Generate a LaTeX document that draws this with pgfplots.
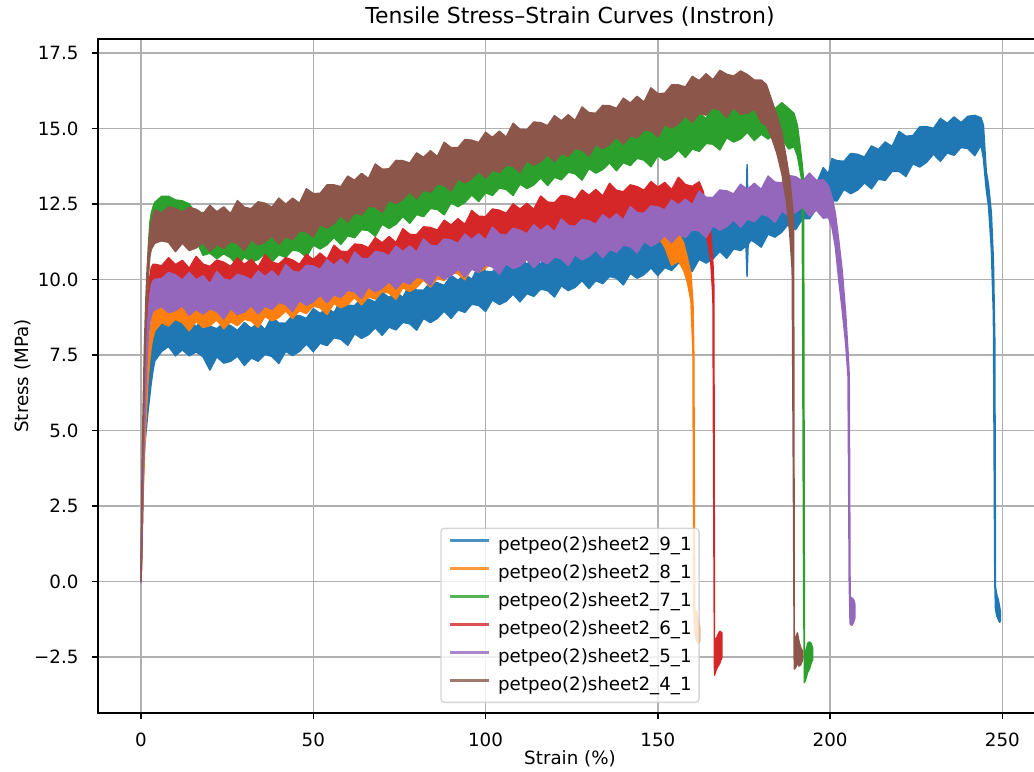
\documentclass[border=0pt]{standalone}
\usepackage{fontspec}
\setmainfont{DejaVu Sans}
\usepackage{pgfplots}
\usepackage{pgfplotstable}
\pgfplotsset{compat=1.18}
\usepgfplotslibrary{fillbetween}

\definecolor{c0}{HTML}{1F77B4}
\definecolor{c1}{HTML}{FF7F0E}
\definecolor{c2}{HTML}{2CA02C}
\definecolor{c3}{HTML}{D62728}
\definecolor{c4}{HTML}{9467BD}
\definecolor{c5}{HTML}{8C564B}
\definecolor{gridgray}{HTML}{B0B0B0}
\definecolor{legendgray}{HTML}{CCCCCC}

% Each specimen: strain x (%), lower and upper edge of the noisy stress trace (MPa)
% sheet2_9_1
\pgfplotstableread{
x lo hi
0 0.0 0.1
0.3 1.5 1.9
0.6 3.2 3.7
1.0 4.4 5.0
1.5 5.0 5.8
2.0 5.6 6.5
2.5 6.1 7.1
3.0 6.6 7.6
3.5 7.0 8.1
4.0 7.3 8.4
6 7.62 8.80
8 7.78 8.63
10 7.47 8.89
12 7.67 8.65
14 7.47 8.74
16 7.60 8.42
18 7.44 8.76
20 7.00 8.45
22 7.44 8.37
24 7.23 8.56
26 7.29 8.47
28 7.46 8.31
30 7.15 8.57
32 7.40 8.38
34 7.29 8.56
36 7.52 8.34
38 7.45 8.77
40 7.22 8.55
42 7.62 8.55
44 7.48 8.81
46 7.62 8.80
48 7.86 8.71
50 7.61 9.03
52 7.89 8.87
54 7.81 9.08
56 8.07 8.89
58 8.02 9.34
60 7.82 9.15
62 8.20 9.13
64 8.05 9.38
66 8.17 9.35
68 8.40 9.25
70 8.15 9.57
72 8.42 9.40
74 8.33 9.60
76 8.58 9.40
78 8.53 9.85
80 8.32 9.65
82 8.71 9.64
84 8.57 9.90
86 8.71 9.89
88 8.95 9.80
90 8.71 10.13
92 8.99 9.97
94 8.91 10.18
96 9.18 10.00
98 9.14 10.46
100 8.94 10.27
102 9.32 10.25
104 9.17 10.50
106 9.28 10.46
108 9.51 10.36
110 9.26 10.68
112 9.53 10.51
114 9.44 10.71
116 9.68 10.50
118 9.63 10.95
120 9.42 10.75
122 9.79 10.72
124 9.63 10.96
126 9.74 10.92
128 9.96 10.81
130 9.70 11.12
132 9.96 10.94
134 9.86 11.13
136 10.10 10.92
138 10.04 11.36
140 9.82 11.15
142 10.20 11.13
144 10.04 11.37
146 10.16 11.34
148 10.38 11.23
150 10.13 11.55
152 10.39 11.37
154 10.30 11.57
156 10.54 11.36
158 10.49 11.81
160 10.27 11.60
162 10.67 11.60
164 10.54 11.87
166 10.68 11.86
168 10.93 11.78
170 10.70 12.12
172 11.01 11.99
174 10.96 12.23
175.6 11.10 12.20
175.9 10.10 13.80
176.2 11.15 12.25
177 11.30 12.12
178 11.24 12.56
180 11.07 12.40
182 11.50 12.43
184 11.40 12.73
186 11.57 12.75
188 11.85 12.70
190 11.65 13.07
192 12.01 12.99
194 12.01 13.28
196 12.34 13.16
198 12.38 13.70
199.5 12.45 13.50
200.5 12.60 14.00
202 12.60 13.93
204 12.98 13.91
206 12.84 14.17
208 12.96 14.14
210 13.20 14.05
212 13.00 14.42
214 13.32 14.30
216 13.28 14.55
218 13.58 14.40
220 13.58 14.90
222 13.41 14.74
224 13.83 14.76
226 13.72 15.05
228 13.88 15.06
230 14.15 15.00
232 13.91 15.33
234 14.19 15.17
236 14.11 15.38
238 14.37 15.19
240 14.33 15.40
242 14.10 15.43
243.8 14.45 15.35
244.5 14.00 15.10
245.3 13.00 13.60
246.0 12.40 13.10
246.8 11.00 12.20
247.4 8.80 10.60
247.8 0.00 8.00
248.0 -0.90 -0.20
248.4 -1.15 -0.45
248.8 -1.25 -0.60
249.2 -1.35 -0.85
249.4 -1.30 -1.00
}\dataA

% sheet2_8_1
\pgfplotstableread{
x lo hi
0 0.0 0.1
0.3 1.2 1.6
0.6 2.8 3.3
1.0 4.2 4.8
1.5 5.5 6.3
2.0 6.6 7.4
2.5 7.3 8.1
3.0 7.8 8.6
3.5 8.1 9.0
4.0 8.3 9.2
6 8.57 9.55
8 8.46 9.73
10 8.68 9.50
12 8.57 9.89
14 8.30 9.63
16 8.62 9.55
18 8.41 9.74
20 8.47 9.65
22 8.66 9.51
24 8.37 9.79
26 8.60 9.58
28 8.47 9.74
30 8.68 9.50
32 8.62 9.94
34 8.41 9.74
36 8.78 9.71
38 8.63 9.96
40 8.74 9.92
42 8.96 9.81
44 8.71 10.13
46 8.97 9.95
48 8.87 10.14
50 9.12 9.94
52 9.06 10.38
54 8.84 10.17
56 9.21 10.14
58 9.06 10.39
60 9.17 10.35
62 9.40 10.25
64 9.16 10.58
66 9.43 10.41
68 9.35 10.62
70 9.60 10.42
72 9.55 10.87
74 9.34 10.67
76 9.73 10.66
78 9.60 10.93
80 9.74 10.92
82 9.98 10.83
84 9.75 11.17
86 10.04 11.02
88 9.96 11.23
90 10.23 11.05
92 10.19 11.51
94 9.99 11.32
96 10.38 11.31
98 10.24 11.57
100 10.37 11.55
102 10.60 11.45
104 10.34 11.76
106 10.61 11.59
108 10.52 11.79
110 10.76 11.58
112 10.71 12.03
114 10.50 11.83
116 10.87 11.80
118 10.70 12.03
120 10.80 11.98
122 11.02 11.87
124 10.75 12.17
126 11.00 11.98
128 10.90 12.17
130 11.13 11.95
132 11.06 12.38
134 10.84 12.17
136 11.20 12.13
138 11.03 12.36
140 11.14 12.32
142 11.35 12.20
144 11.08 12.50
146 11.34 12.32
148 11.23 12.50
150 11.43 12.25
152 11.08 12.40
154 10.47 11.80
156 10.60 11.53
157.5 10.30 11.20
158.6 9.90 10.70
159.6 9.30 10.20
160.2 7.60 9.20
160.45 -0.90 7.50
160.7 -1.70 -0.90
161.2 -1.95 -1.00
161.7 -2.05 -1.20
162.1 -2.00 -1.50
}\dataB

% sheet2_7_1
\pgfplotstableread{
x lo hi
0 0.0 0.1
0.3 1.8 2.3
0.6 4.0 4.8
1.0 6.0 7.0
1.4 7.5 8.5
1.8 9.0 10.0
2.2 10.2 11.2
2.6 11.0 11.9
3.0 11.4 12.2
3.5 11.7 12.4
4.0 11.85 12.55
6 11.63 12.75
8 11.42 12.75
10 11.70 12.63
12 11.35 12.60
14 11.32 12.50
16 11.30 12.15
18 10.80 12.22
20 10.87 11.85
22 10.69 11.96
24 10.85 11.67
26 10.72 12.04
28 10.44 11.77
30 10.75 11.68
32 10.57 11.90
34 10.66 11.84
36 10.86 11.71
38 10.58 12.00
40 10.82 11.80
42 10.73 12.00
44 10.98 11.80
46 10.93 12.25
48 10.74 12.07
50 11.14 12.07
52 11.01 12.34
54 11.15 12.33
56 11.39 12.24
58 11.16 12.58
60 11.45 12.43
62 11.38 12.65
64 11.65 12.47
66 11.62 12.94
68 11.43 12.76
70 11.83 12.76
72 11.69 13.02
74 11.83 13.01
76 12.08 12.93
78 11.86 13.28
80 12.15 13.13
82 12.08 13.35
84 12.35 13.17
86 12.32 13.64
88 12.14 13.47
90 12.54 13.47
92 12.41 13.74
94 12.55 13.73
96 12.80 13.65
98 12.58 14.00
100 12.87 13.85
102 12.78 14.05
104 13.03 13.85
106 12.98 14.30
108 12.78 14.11
110 13.16 14.09
112 13.01 14.34
114 13.13 14.31
116 13.36 14.21
118 13.11 14.53
120 13.38 14.36
122 13.30 14.57
124 13.55 14.37
126 13.50 14.82
128 13.29 14.62
130 13.67 14.60
132 13.52 14.85
134 13.64 14.82
136 13.86 14.71
138 13.60 15.02
140 13.87 14.85
142 13.77 15.04
144 14.01 14.83
146 13.95 15.27
148 13.73 15.06
150 14.10 15.03
152 13.94 15.27
154 14.05 15.23
156 14.28 15.13
158 14.04 15.46
160 14.32 15.30
162 14.24 15.51
164 14.50 15.32
166 14.48 15.80
168 14.29 15.62
170 14.69 15.62
172 14.55 15.88
174 14.65 15.83
176 14.87 15.72
178 14.60 15.90
180 14.81 15.79
182 14.65 15.92
184 14.83 15.65
186 14.66 15.85
188 14.32 15.65
189.5 14.40 15.50
190.5 14.10 15.10
191.3 13.60 14.40
191.9 13.20 13.80
192.3 0.00 13.30
192.55 -3.35 -2.40
193.0 -3.20 -2.30
193.5 -3.00 -2.05
194.0 -2.90 -2.00
194.5 -2.70 -2.05
194.9 -2.60 -2.20
}\dataC

% sheet2_6_1
\pgfplotstableread{
x lo hi
0 0.0 0.1
0.3 1.5 2.0
0.6 3.4 4.0
1.0 5.3 6.0
1.4 6.8 7.5
1.8 8.0 8.7
2.2 8.8 9.5
2.6 9.2 10.1
3.0 9.4 10.4
3.5 9.4 10.5
4.0 9.45 10.5
6 9.60 10.45
8 9.30 10.72
10 9.51 10.49
12 9.36 10.63
14 9.55 10.37
16 9.44 10.76
18 9.18 10.51
20 9.50 10.43
22 9.31 10.64
24 9.39 10.57
26 9.58 10.43
28 9.29 10.71
30 9.52 10.50
32 9.39 10.66
34 9.59 10.41
36 9.50 10.82
38 9.24 10.57
40 9.58 10.51
42 9.39 10.72
44 9.46 10.64
46 9.65 10.50
48 9.41 10.83
50 9.68 10.66
52 9.60 10.87
54 9.85 10.67
56 9.81 11.13
58 9.60 10.93
60 9.99 10.92
62 9.84 11.17
64 9.97 11.15
66 10.20 11.05
68 9.96 11.38
70 10.23 11.21
72 10.15 11.42
74 10.40 11.22
76 10.36 11.68
78 10.16 11.49
80 10.55 11.48
82 10.41 11.74
84 10.54 11.72
86 10.78 11.63
88 10.54 11.96
90 10.82 11.80
92 10.74 12.01
94 11.00 11.82
96 10.96 12.28
98 10.76 12.09
100 11.15 12.08
102 11.00 12.33
104 11.11 12.29
106 11.34 12.19
108 11.08 12.50
110 11.35 12.33
112 11.25 12.52
114 11.50 12.32
116 11.44 12.76
118 11.23 12.56
120 11.61 12.54
122 11.45 12.78
124 11.57 12.75
126 11.79 12.64
128 11.54 12.96
130 11.80 12.78
132 11.71 12.98
134 11.94 12.76
136 11.86 13.18
138 11.62 12.95
140 11.97 12.90
142 11.80 13.13
144 11.89 13.07
146 12.10 12.95
148 11.82 13.24
150 12.07 13.05
152 11.94 13.21
154 12.15 12.97
156 12.06 13.38
158 11.81 13.14
160 12.15 13.08
162 11.90 13.23
163.2 11.70 12.90
164.4 11.30 12.00
165.3 10.70 11.60
166.0 9.40 10.50
166.25 2.00 9.80
166.45 -3.10 -1.90
167.0 -2.90 -1.90
167.5 -2.80 -1.75
168.0 -2.70 -1.65
168.6 -2.50 -1.70
}\dataD

% sheet2_5_1
\pgfplotstableread{
x lo hi
0 -0.05 0.6
0.3 1.5 2.2
0.6 3.3 4.0
1.0 5.0 5.8
1.4 6.4 7.2
1.8 7.5 8.3
2.2 8.2 9.0
2.6 8.6 9.5
3.0 8.8 9.8
3.5 8.95 9.95
4.0 9.0 10.0
6 9.10 10.03
8 8.90 10.23
10 8.97 10.15
12 9.13 9.98
14 8.81 10.23
16 9.01 9.99
18 8.85 10.12
20 9.03 9.85
22 8.94 10.26
24 8.69 10.02
26 9.03 9.96
28 8.84 10.17
30 8.92 10.10
32 9.13 9.98
34 8.86 10.28
36 9.11 10.09
38 9.01 10.28
40 9.24 10.06
42 9.17 10.49
44 8.94 10.27
46 9.30 10.23
48 9.14 10.47
50 9.26 10.44
52 9.48 10.33
54 9.23 10.65
56 9.49 10.47
58 9.40 10.67
60 9.64 10.46
62 9.59 10.91
64 9.37 10.70
66 9.75 10.68
68 9.59 10.92
70 9.71 10.89
72 9.93 10.78
74 9.68 11.10
76 9.94 10.92
78 9.84 11.11
80 10.08 10.90
82 10.02 11.34
84 9.80 11.13
86 10.17 11.10
88 10.01 11.34
90 10.12 11.30
92 10.34 11.19
94 10.08 11.50
96 10.34 11.32
98 10.24 11.51
100 10.48 11.30
102 10.41 11.73
104 10.17 11.50
106 10.53 11.46
108 10.36 11.69
110 10.45 11.63
112 10.66 11.51
114 10.39 11.81
116 10.63 11.61
118 10.52 11.79
120 10.75 11.57
122 10.68 12.00
124 10.46 11.79
126 10.82 11.75
128 10.65 11.98
130 10.76 11.94
132 10.97 11.82
134 10.72 12.14
136 10.99 11.97
138 10.90 12.17
140 11.14 11.96
142 11.09 12.41
144 10.88 12.21
146 11.26 12.19
148 11.10 12.43
150 11.22 12.40
152 11.45 12.30
154 11.21 12.63
156 11.48 12.46
158 11.39 12.66
160 11.65 12.47
162 11.60 12.92
164 11.39 12.72
166 11.78 12.71
168 11.63 12.96
170 11.75 12.93
172 11.98 12.83
174 11.73 13.15
176 12.00 12.98
178 11.91 13.18
180 12.16 12.98
182 12.10 13.42
184 11.89 13.22
186 12.27 13.20
188 12.11 13.44
190 12.22 13.40
192 12.40 13.25
194 12.10 13.52
196 12.30 13.28
198 12.03 13.30
199.5 12.05 13.10
200.5 11.75 12.75
201.5 11.10 12.20
202.5 10.00 11.30
203.5 9.00 10.30
204.5 7.90 8.90
205.2 6.80 7.60
205.55 0.00 6.80
205.8 -1.40 -0.50
206.3 -1.45 -0.55
206.8 -1.35 -0.60
207.2 -1.20 -0.75
}\dataE

% sheet2_4_1
\pgfplotstableread{
x lo hi
0 0.0 0.1
0.2 1.5 2.5
0.4 3.5 4.5
0.7 5.2 6.2
1.0 6.8 7.8
1.4 8.3 9.3
1.8 9.5 10.4
2.2 10.3 11.1
2.6 10.8 11.6
3.0 11.0 11.9
3.5 11.1 12.1
4.0 11.2 12.3
6 11.28 12.20
8 11.23 12.40
10 10.92 12.35
12 11.20 12.23
14 10.96 12.39
16 11.04 12.32
18 11.22 12.17
20 10.93 12.45
22 11.16 12.24
24 11.03 12.40
26 11.26 12.18
28 11.19 12.61
30 10.96 12.39
32 11.31 12.34
34 11.14 12.57
36 11.24 12.52
38 11.44 12.39
40 11.17 12.69
42 11.41 12.49
44 11.32 12.69
46 11.60 12.52
48 11.58 13.00
50 11.41 12.84
52 11.82 12.85
54 11.70 13.13
56 11.85 13.13
58 12.12 13.07
60 11.90 13.42
62 12.20 13.28
64 12.14 13.51
66 12.42 13.34
68 12.40 13.82
70 12.22 13.65
72 12.63 13.66
74 12.51 13.94
76 12.65 13.93
78 12.90 13.85
80 12.67 14.19
82 12.96 14.04
84 12.89 14.26
86 13.15 14.07
88 13.12 14.54
90 12.93 14.36
92 13.33 14.36
94 13.20 14.63
96 13.33 14.61
98 13.58 14.53
100 13.35 14.87
102 13.62 14.70
104 13.54 14.91
106 13.79 14.71
108 13.75 15.17
110 13.54 14.97
112 13.93 14.96
114 13.78 15.21
116 13.91 15.19
118 14.14 15.09
120 13.90 15.42
122 14.17 15.25
124 14.08 15.45
126 14.34 15.26
128 14.29 15.71
130 14.09 15.52
132 14.47 15.50
134 14.33 15.76
136 14.47 15.75
138 14.71 15.66
140 14.48 16.00
142 14.76 15.84
144 14.69 16.06
146 14.95 15.87
148 14.92 16.34
150 14.72 16.15
152 15.13 16.16
154 15.01 16.44
156 15.16 16.44
158 15.42 16.37
160 15.20 16.72
162 15.50 16.58
164 15.44 16.81
166 15.69 16.61
168 15.60 16.92
170 15.36 16.79
172 15.70 16.73
174 15.47 16.90
176 15.50 16.78
178 15.65 16.60
180 15.20 16.60
181.5 15.10 16.45
183.0 14.70 15.95
184.5 14.20 15.45
186.0 13.50 14.85
187.3 12.60 14.00
188.3 11.50 13.30
189.0 10.30 12.50
189.4 2.00 12.00
189.6 -2.90 -1.80
190.0 -2.85 -1.90
190.5 -2.70 -1.70
191.0 -2.80 -2.00
191.5 -2.75 -2.20
192.0 -2.60 -2.30
}\dataF

% one filled trace: the band between the lower and upper edge
\newcommand{\band}[2]{%
  \addplot[draw=none, forget plot, name path=#2hi] table[x=x, y=hi] {#1};
  \addplot[draw=none, forget plot, name path=#2lo] table[x=x, y=lo] {#1};
  \addplot[fill=#2, draw=#2, line width=1.1pt, line join=round, forget plot]
    fill between[of=#2hi and #2lo];
}

\begin{document}
\begin{tikzpicture}
\begin{axis}[
  set layers,
  scale only axis,
  width=708pt, height=505.5pt,
  at={(0pt,0pt)}, anchor=south west,
  xmin=-12.48, xmax=261.5,
  ymin=-4.354, ymax=17.96,
  xtick={0,50,100,150,200,250},
  xticklabels={0,50,100,150,200,250},
  ytick={-2.5,0,2.5,5,7.5,10,12.5,15,17.5},
  yticklabels={−2.5,0.0,2.5,5.0,7.5,10.0,12.5,15.0,17.5},
  tick pos=left,
  tick align=outside,
  major tick length=4.8pt,
  every tick/.style={black, line width=1.1pt},
  axis line style={black, line width=1.1pt},
  grid=major,
  major grid style={gridgray, line width=1.1pt},
  tick label style={font=\fontsize{13.7}{16}\selectfont, inner sep=0pt},
  yticklabel style={anchor=east, xshift=-9.6pt},
  xticklabel style={anchor=north, yshift=-9.6pt},
  title={Tensile Stress–Strain Curves (Instron)},
  every axis title/.style={at={(axis description cs:0.5,1.0233)}, anchor=base,
    inner sep=0pt, font=\fontsize{16.5}{19}\selectfont},
  xlabel={Strain (\%)},
  every axis x label/.style={at={(axis description cs:0.5,-0.0768)}, anchor=base,
    inner sep=0pt, font=\fontsize{13.7}{16}\selectfont},
  ylabel={Stress (MPa)},
  every axis y label/.style={at={(axis description cs:-0.0731,0.5)}, rotate=90,
    anchor=base, inner sep=0pt, font=\fontsize{13.7}{16}\selectfont},
  legend cell align=left,
  legend image code/.code={\draw[#1] (0pt,3.6pt) -- (29.25pt,3.6pt);},
  legend style={
    at={(axis description cs:0.5,0.0148)}, anchor=south,
    draw=legendgray, line width=1pt,
    fill=white, fill opacity=0.8, draw opacity=0.8, text opacity=1,
    rounded corners=2.7pt,
    font=\fontsize{13.7}{16}\selectfont,
    inner xsep=5.5pt, inner ysep=5.9pt,
    row sep=7.3pt,
    nodes={inner sep=0pt, text height=10.4pt, text depth=3.3pt},
    /tikz/every odd column/.append style={column sep=6pt},
  },
]
\band{\dataA}{c0}
\band{\dataB}{c1}
\band{\dataC}{c2}
\band{\dataD}{c3}
\band{\dataE}{c4}
\band{\dataF}{c5}

\addlegendimage{c0, line width=2.06pt}
\addlegendentry{petpeo(2)sheet2\_9\_1}
\addlegendimage{c1, line width=2.06pt}
\addlegendentry{petpeo(2)sheet2\_8\_1}
\addlegendimage{c2, line width=2.06pt}
\addlegendentry{petpeo(2)sheet2\_7\_1}
\addlegendimage{c3, line width=2.06pt}
\addlegendentry{petpeo(2)sheet2\_6\_1}
\addlegendimage{c4, line width=2.06pt}
\addlegendentry{petpeo(2)sheet2\_5\_1}
\addlegendimage{c5, line width=2.06pt}
\addlegendentry{petpeo(2)sheet2\_4\_1}
\end{axis}
\pgfresetboundingbox
\path[use as bounding box] (-73.5pt,-43.5pt) rectangle (702pt,534.75pt);
\end{tikzpicture}
\end{document}
